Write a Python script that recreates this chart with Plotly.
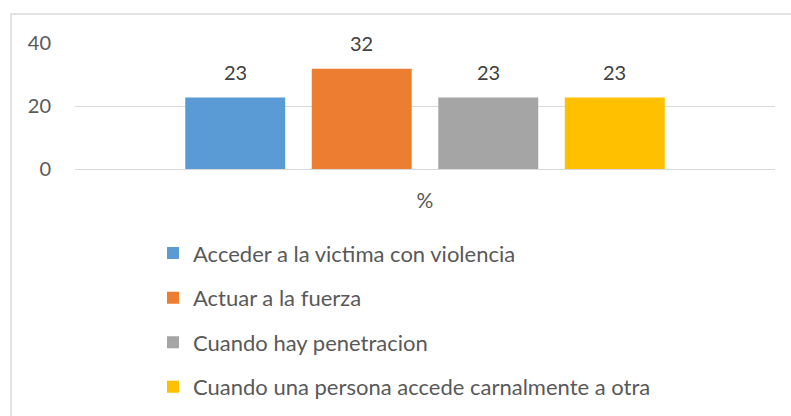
import plotly.graph_objects as go

categories = ["%"]
series_names = [
    "Acceder a la victima con violencia",
    "Actuar a la fuerza",
    "Cuando hay penetracion",
    "Cuando una persona accede carnalmente a otra",
]
series_values = [22.7, 31.8, 22.7, 22.7]
colors = ["#5B9BD5", "#ED7D31", "#A5A5A5", "#FFC000"]
y_ticks = [0, 20, 40]

W, H = 791, 416
L, R, T, B = 75, 16, 43, 246.5
pw, ph = W - L - R, H - T - B
BARGAP = 0.277

def px_to_paper_x(px):
    return (px - L) / pw

def px_to_paper_y(py):
    return (H - B - py) / ph

FONT = "Lato, Carlito, Calibri, sans-serif"

fig = go.Figure()
n = len(series_values)
slot = (1 - BARGAP) / n
annotations = []
for i, (name, val, col) in enumerate(zip(series_names, series_values, colors)):
    fig.add_trace(go.Bar(
        x=categories, y=[val], name=name,
        marker=dict(color=col, line=dict(width=0)),
        cliponaxis=False,
        legendgroup=f"g{i}",
    ))
    annotations.append(dict(
        x=(i - (n - 1) / 2) * slot, y=val, xref="x", yref="y",
        text=f"{val:.0f}", showarrow=False, yanchor="middle", yshift=26,
        font=dict(family=FONT, size=20, color="#404040"),
    ))

fig.update_layout(
    width=W, height=H,
    margin=dict(l=L, r=R, t=T, b=B, autoexpand=False),
    paper_bgcolor="white", plot_bgcolor="white",
    barmode="group", bargap=BARGAP, bargroupgap=0.21,
    font=dict(family=FONT, color="#595959"),
    showlegend=True,
    legend=dict(
        orientation="v", x=px_to_paper_x(153), y=px_to_paper_y(233),
        xanchor="left", yanchor="top",
        traceorder="grouped", tracegroupgap=13,
        font=dict(size=22, color="#595959"),
        itemwidth=30,
        bgcolor="rgba(0,0,0,0)",
    ),
    xaxis=dict(
        type="category",
        showgrid=False, showline=False, ticks="", automargin=False,
        tickfont=dict(size=21, color="#595959"),
        ticklabelstandoff=17,
    ),
    yaxis=dict(
        range=[0, 40], tickvals=y_ticks, showgrid=True, gridcolor="#D9D9D9", gridwidth=1,
        zeroline=True, zerolinecolor="#D9D9D9", zerolinewidth=1,
        showline=False, ticks="", ticklen=0, automargin=False,
        tickfont=dict(size=20, color="#595959"),
        ticklabelstandoff=23,
    ),
    annotations=annotations,
    shapes=[dict(
        type="rect", xref="paper", yref="paper",
        x0=px_to_paper_x(11), x1=px_to_paper_x(800),
        y0=px_to_paper_y(430), y1=px_to_paper_y(14),
        line=dict(color="#D9D9D9", width=1.5), fillcolor="rgba(0,0,0,0)", layer="below",
    )],
)

fig.write_html(
    "out.html",
    config={"displayModeBar": False},
    post_script="document.body.style.margin='0px';",
)
